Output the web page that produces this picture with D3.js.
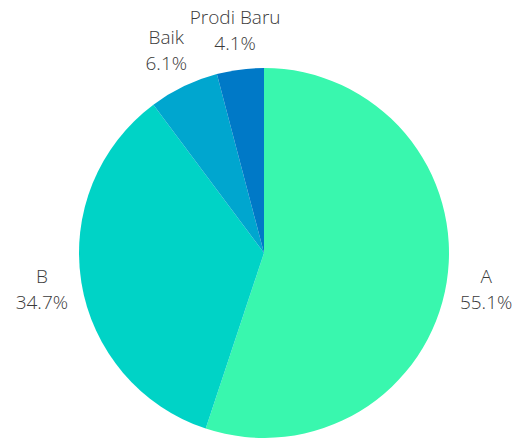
<!DOCTYPE html>
<html>
<head>
<meta charset="utf-8">
<script src="https://cdn.jsdelivr.net/npm/d3@7"></script>
<style>
  body { margin: 0; background: #fff; }
  text { font-family: "Open Sans", sans-serif; font-weight: 300; }
</style>
</head>
<body>
<script>
// chart data
var labels = ["A", "B", "Baik", "Prodi Baru"];
var values = [55.1, 34.7, 6.1, 4.1];
var colors = ["#39f7ae", "#00d3c6", "#00a6cf", "#0079c7"];

var width = 521, height = 438;
var cx = 264, cy = 253, radius = 185, labelRadius = 225;

var svg = d3.select("body").append("svg")
    .attr("width", width)
    .attr("height", height);

var g = svg.append("g")
    .attr("transform", "translate(" + cx + "," + cy + ")");

var pie = d3.pie().sort(null).value(function (d) { return d; });
var arcs = pie(values);

var arc = d3.arc().innerRadius(0).outerRadius(radius);

g.selectAll("path")
    .data(arcs)
    .enter()
    .append("path")
    .attr("d", arc)
    .style("fill", function (d, i) { return colors[i]; });

// labels outside the slices
var lbl = g.selectAll(null)
    .data(arcs)
    .enter()
    .append("text")
    .attr("text-anchor", "middle")
    .attr("font-size", "19px")
    .attr("fill", "#3a3a3a")
    .attr("transform", function (d) {
        var a = (d.startAngle + d.endAngle) / 2;
        return "translate(" + (labelRadius * Math.sin(a)) + "," + (-labelRadius * Math.cos(a)) + ")";
    });

lbl.append("tspan")
    .attr("x", 0)
    .attr("y", -6)
    .text(function (d, i) { return labels[i]; });

lbl.append("tspan")
    .attr("x", 0)
    .attr("y", 20)
    .text(function (d) { return d.value.toFixed(1) + "%"; });
</script>
</body>
</html>
